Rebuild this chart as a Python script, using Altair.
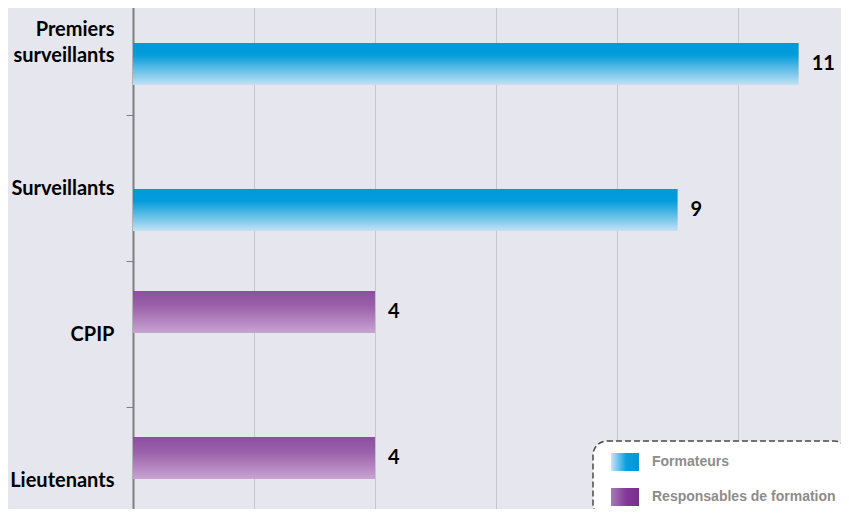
import altair as alt
import pandas as pd

categories = ["Premiers surveillants", "Surveillants", "CPIP", "Lieutenants"]
values = [11, 9, 4, 4]
series = ["Formateurs", "Formateurs", "Responsables de formation", "Responsables de formation"]
legend_order = ["Formateurs", "Responsables de formation"]
slot_order = ["Responsables de formation", "Formateurs"]
x_grid_values = [0, 2, 4, 6, 8, 10]

df = pd.DataFrame({"cat": categories, "val": values, "serie": series})

blue_grad = alt.LinearGradient(
    gradient="linear", x1=0, y1=0, x2=0, y2=1,
    stops=[alt.GradientStop(offset=0, color="#0099d9"),
           alt.GradientStop(offset=0.28, color="#039cdb"),
           alt.GradientStop(offset=1, color="#c3e1f4")])
purple_grad = alt.LinearGradient(
    gradient="linear", x1=0, y1=0, x2=0, y2=1,
    stops=[alt.GradientStop(offset=0, color="#8a4f9f"),
           alt.GradientStop(offset=0.35, color="#9a60aa"),
           alt.GradientStop(offset=1, color="#c8a3d1")])

y_enc = alt.Y(
    "cat:N", sort=categories,
    scale=alt.Scale(range=[-40, 544], paddingInner=0, paddingOuter=0),
    axis=alt.Axis(
        title=None, labelFont="Lato", labelFontWeight="bold", labelFontSize=20,
        labelColor="#000000", labelPadding=12, tickSize=7, tickColor="#7f7f7f",
        domainColor="#7f7f7f", domainWidth=2, tickBand="extent", labelLimit=200,
        labelLineHeight=26,
        labelOffset={"condition": {"test": "datum.value == 'Premiers surveillants'", "value": -13},
                     "value": 0},
        labelExpr="datum.value == 'Premiers surveillants' ? ['Premiers', 'surveillants'] : datum.value",
    ),
)
yoff_enc = alt.YOffset("serie:N", sort=slot_order,
                       scale=alt.Scale(domain=slot_order, paddingInner=0.05, paddingOuter=0.68))
x_enc = alt.X(
    "val:Q", scale=alt.Scale(domain=[0, 11.70], nice=False, zero=True),
    axis=alt.Axis(title=None, labels=False, ticks=False, domain=False, grid=True,
                  gridColor="#c6c6d0", gridWidth=1, values=x_grid_values),
)

base = alt.Chart(df).encode(x=x_enc, y=y_enc, yOffset=yoff_enc)

bars_f = base.transform_filter(alt.datum.serie == "Formateurs").mark_bar(color=blue_grad)
bars_r = base.transform_filter(alt.datum.serie == "Responsables de formation").mark_bar(color=purple_grad)

labels = base.mark_text(align="left", dx=13, font="Lato", fontWeight="bold",
                        fontSize=20, color="#000000").encode(text="val:Q")

legend_fill = (
    "datum.value == 'Formateurs' ? "
    "{gradient: 'linear', x1: 0, y1: 0, x2: 1, y2: 0, stops: ["
    "{offset: 0, color: '#c8e4f6'}, {offset: 0.55, color: '#0a9edc'}, {offset: 1, color: '#0096d6'}]} : "
    "{gradient: 'linear', x1: 0, y1: 0, x2: 1, y2: 0, stops: ["
    "{offset: 0, color: '#a77ab6'}, {offset: 0.55, color: '#83399a'}, {offset: 1, color: '#7a2d8e'}]}"
)
legend_shape = "M-0.33,-1L2.78,-1L2.78,1L-0.33,1Z"

legend_layer = base.mark_point(filled=True, opacity=0).encode(
    color=alt.Color("serie:N", scale=alt.Scale(domain=slot_order, range=["#7a2d8e", "#0096d6"]),
                    legend=None),
    shape=alt.Shape(
        "serie:N",
        scale=alt.Scale(domain=legend_order, range=[legend_shape, legend_shape]),
        legend=alt.Legend(
            title=None, orient="none", legendX=460, legendY=432, direction="vertical",
            symbolSize=324, symbolOpacity=1, symbolStrokeWidth=0,
            symbolFillColor={"expr": legend_fill},
            labelFont="Liberation Sans", labelFontWeight="bold", labelFontSize=14,
            labelColor="#8c8c8c", labelLimit=400, labelOffset=29, rowPadding=17,
            padding=12, strokeColor="#4a4a4a", cornerRadius=14,
            fillColor="#ffffff",
        ),
    ),
)

chart = alt.layer(bars_f, bars_r, labels, legend_layer).properties(
    width=708, height=500,
    autosize=alt.AutoSizeParams(type="none"),
    padding={"left": 125, "top": 1, "right": 0, "bottom": 0},
    background="#e6e6ee",
).configure_view(stroke=None).configure_legend(strokeDash=[6, 3], strokeWidth=1.5)

chart.save("out.html", embed_options={"renderer": "svg", "actions": False})
